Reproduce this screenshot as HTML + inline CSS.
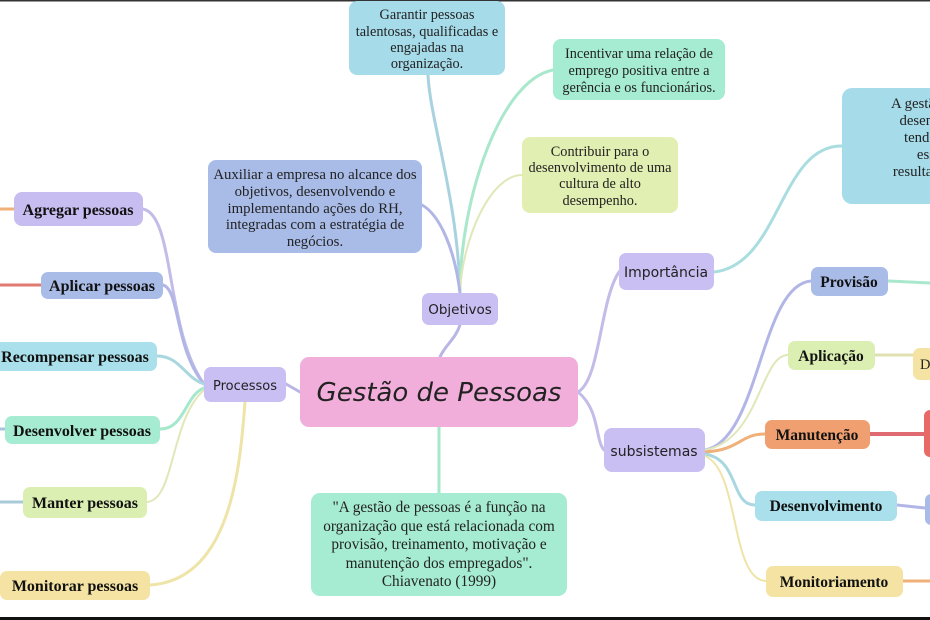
<!DOCTYPE html>
<html><head><meta charset="utf-8"><style>
html,body{margin:0;padding:0;background:#fff;width:930px;height:620px;overflow:hidden}
svg{display:block}
.s{font-family:"Liberation Serif",serif;fill:#222}
.b{font-family:"Liberation Serif",serif;font-weight:bold;fill:#111}
.h{font-family:"DejaVu Sans","Liberation Sans",sans-serif;fill:#222}
</style></head><body>
<svg width="930" height="620" viewBox="0 0 930 620" xmlns="http://www.w3.org/2000/svg">
<rect width="930" height="620" fill="#fff"/>
<rect x="0" y="0" width="930" height="1.5" fill="#333"/>
<rect x="0" y="617" width="930" height="3" fill="#111"/>
<g fill="none" stroke-width="3" stroke-linecap="round">
<path d="M143,209 C175,215 165,330 204,384" stroke="#c3bbe8"/>
<path d="M163,285 C180,290 175,350 204,384" stroke="#b1b6e6"/>
<path d="M157,356 C180,356 185,378 204,384" stroke="#a9d7e0"/>
<path d="M160,429 C185,429 185,395 204,388" stroke="#a6e8cc"/>
<path d="M147,502 C175,500 170,420 204,390" stroke="#e0e7b8" stroke-width="2"/>
<path d="M150,585 C230,580 240,470 245,402" stroke="#eee4a8"/>
<path d="M0,209 L14,209" stroke="#efb07a"/>
<path d="M0,285 L41,285" stroke="#e07a72"/>
<path d="M0,429 L5,429" stroke="#a9c4d8"/>
<path d="M0,502 L23,502" stroke="#a9cad8"/>
<path d="M286,384 L300,392" stroke="#b9b6e6"/>
<path d="M460,293 C458,200 430,120 428,75" stroke="#a9d2e0"/>
<path d="M460,293 C460,200 500,80 553,70" stroke="#a9e8cc"/>
<path d="M460,293 C462,240 490,175 522,175" stroke="#e0e7b8" stroke-width="2"/>
<path d="M460,293 C455,250 440,215 422,205" stroke="#b1b6e6"/>
<path d="M460,325 C455,340 445,345 440,357" stroke="#b9b6e6"/>
<path d="M439,427 L439,493" stroke="#a6e8cc"/>
<path d="M578,392 C600,380 600,300 619,272" stroke="#c3bbe8"/>
<path d="M578,392 C600,410 595,440 604,450" stroke="#c3bbe8"/>
<path d="M714,272 C780,265 780,145 842,146" stroke="#a9dde0"/>
<path d="M705,450 C760,440 760,285 811,281" stroke="#b1b6e6"/>
<path d="M705,450 C760,440 760,355 788,355" stroke="#e0e7b8" stroke-width="2"/>
<path d="M705,452 C740,450 740,434 765,434" stroke="#efb07a"/>
<path d="M705,454 C740,460 730,505 755,505" stroke="#a9d7e0"/>
<path d="M705,456 C740,470 730,580 766,581" stroke="#eee4a8" stroke-width="2"/>
<path d="M888,281 L930,283" stroke="#a9e8cc"/>
<path d="M875,355 L913,355" stroke="#e0e0b0"/>
<path d="M870,434 L924,434" stroke="#e06a72" stroke-width="4"/>
<path d="M897,505 L925,508" stroke="#b1b6e6"/>
<path d="M903,581 L930,581" stroke="#efb07a"/>
</g>
<rect x="349" y="1" width="156" height="74" rx="8" fill="#a6dcea"/>
<text class="s" font-size="14.3" text-anchor="middle"><tspan x="427" y="19">Garantir pessoas</tspan><tspan x="427" y="36">talentosas, qualificadas e</tspan><tspan x="427" y="52">engajadas na</tspan><tspan x="427" y="68">organização.</tspan></text>
<rect x="553" y="39" width="172" height="61" rx="8" fill="#a6ecd2"/>
<text class="s" font-size="14.3" text-anchor="middle"><tspan x="639" y="58">Incentivar uma relação de</tspan><tspan x="639" y="75">emprego positiva entre a</tspan><tspan x="639" y="92">gerência e os funcionários.</tspan></text>
<rect x="522" y="137" width="156" height="76" rx="8" fill="#e2efb2"/>
<text class="s" font-size="14.3" text-anchor="middle"><tspan x="600" y="156">Contribuir para o</tspan><tspan x="600" y="172">desenvolvimento de uma</tspan><tspan x="600" y="188">cultura de alto</tspan><tspan x="600" y="205">desempenho.</tspan></text>
<rect x="208" y="160" width="214" height="93" rx="8" fill="#a9bce8"/>
<text class="s" font-size="14.8" text-anchor="middle"><tspan x="315" y="179">Auxiliar a empresa no alcance dos</tspan><tspan x="315" y="196">objetivos, desenvolvendo e</tspan><tspan x="315" y="213">implementando ações do RH,</tspan><tspan x="315" y="229">integradas com a estratégia de</tspan><tspan x="315" y="246">negócios.</tspan></text>
<rect x="842" y="88" width="100" height="116" rx="10" fill="#a6dcea"/>
<text class="s" font-size="14.8" text-anchor="middle"><tspan x="950" y="108">A gestão de pessoas</tspan><tspan x="950" y="125">desenvolvimento</tspan><tspan x="950" y="142">tendo um clima</tspan><tspan x="950" y="159">essa gestão</tspan><tspan x="950" y="176">resultados, fazendo</tspan></text>
<rect x="422" y="293" width="76" height="32" rx="7" fill="#c9bff2"/>
<text class="h" font-size="13.5" x="460" y="314" text-anchor="middle">Objetivos</text>
<rect x="300" y="357" width="278" height="70" rx="9" fill="#f2aedb"/>
<text class="h" font-size="26" font-style="italic" x="439" y="401" text-anchor="middle">Gestão de Pessoas</text>
<rect x="311" y="493" width="256" height="103" rx="9" fill="#a6ecd2"/>
<text class="s" font-size="15.3" text-anchor="middle"><tspan x="439" y="512">"A gestão de pessoas é a função na</tspan><tspan x="439" y="531">organização que está relacionada com</tspan><tspan x="439" y="549">provisão, treinamento, motivação e</tspan><tspan x="439" y="568">manutenção dos empregados".</tspan><tspan x="439" y="586">Chiavenato (1999)</tspan></text>
<rect x="204" y="367" width="82" height="35" rx="7" fill="#c9bff2"/>
<text class="h" font-size="13" x="245" y="390" text-anchor="middle">Processos</text>
<rect x="14" y="192" width="129" height="34" rx="8" fill="#c7bdf0"/>
<text class="b" font-size="16" x="78" y="215" text-anchor="middle">Agregar pessoas</text>
<rect x="41" y="272" width="122" height="27" rx="7" fill="#a9bce8"/>
<text class="b" font-size="16" x="102" y="291" text-anchor="middle">Aplicar pessoas</text>
<rect x="-6" y="342" width="163" height="29" rx="7" fill="#a9e0ec"/>
<text class="b" font-size="16" x="75" y="362" text-anchor="middle">Recompensar pessoas</text>
<rect x="5" y="416" width="155" height="28" rx="7" fill="#a6ecd2"/>
<text class="b" font-size="16" x="82" y="436" text-anchor="middle">Desenvolver pessoas</text>
<rect x="23" y="487" width="124" height="31" rx="7" fill="#dcefb3"/>
<text class="b" font-size="16" x="85" y="508" text-anchor="middle">Manter pessoas</text>
<rect x="0" y="571" width="150" height="29" rx="7" fill="#f5e3a4"/>
<text class="b" font-size="16" x="75" y="591" text-anchor="middle">Monitorar pessoas</text>
<rect x="619" y="253" width="95" height="37" rx="7" fill="#c9bff2"/>
<text class="h" font-size="14" x="666" y="277" text-anchor="middle">Importância</text>
<rect x="604" y="428" width="101" height="44" rx="8" fill="#c9bff2"/>
<text class="h" font-size="14" x="654" y="456" text-anchor="middle">subsistemas</text>
<rect x="811" y="267" width="77" height="29" rx="7" fill="#a9bce8"/>
<text class="b" font-size="15.5" x="849" y="287" text-anchor="middle">Provisão</text>
<rect x="788" y="341" width="87" height="29" rx="7" fill="#dcefb3"/>
<text class="b" font-size="15.5" x="831" y="361" text-anchor="middle">Aplicação</text>
<rect x="913" y="348" width="30" height="32" rx="7" fill="#f5e3a4"/>
<text class="s" font-size="14.5" x="920" y="369">D</text>
<rect x="765" y="420" width="105" height="29" rx="7" fill="#f0a070"/>
<text class="b" font-size="15.5" x="817" y="440" text-anchor="middle">Manutenção</text>
<rect x="924" y="410" width="20" height="47" rx="6" fill="#e86a66"/>
<rect x="755" y="491" width="142" height="30" rx="7" fill="#a9e0ec"/>
<text class="b" font-size="15.5" x="826" y="511" text-anchor="middle">Desenvolvimento</text>
<rect x="925" y="494" width="20" height="31" rx="6" fill="#a9bce8"/>
<rect x="766" y="566" width="137" height="31" rx="7" fill="#f5e3a4"/>
<text class="b" font-size="15.5" x="834" y="587" text-anchor="middle">Monitoriamento</text>
</svg>
</body></html>
